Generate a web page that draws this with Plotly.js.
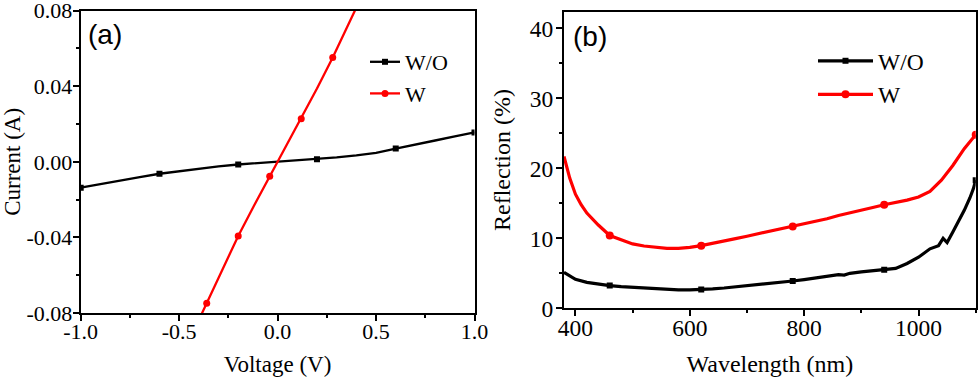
<!DOCTYPE html>
<html><head><meta charset="utf-8">
<script src="https://cdn.plot.ly/plotly-3.0.1.min.js"></script>
<style>html,body{margin:0;padding:0;background:#fff}#c{width:980px;height:378px}</style>
</head><body><div id="c"></div>
<script>
// ---- Panel (a): I-V curves ----
var voltWO = [-1.0,-0.9,-0.8,-0.7,-0.6,-0.5,-0.4,-0.3,-0.2,-0.1,0.0,0.1,0.2,0.3,0.4,0.5,0.6,0.7,0.8,0.9,1.0];
var currWO = [-0.0137,-0.0117,-0.0100,-0.0081,-0.0063,-0.0049,-0.0036,-0.0024,-0.0014,-0.0007,0.0,0.0007,0.0014,0.0024,0.0034,0.0047,0.0070,0.0090,0.0113,0.0135,0.0156];
var markVoltWO = [-1.0,-0.6,-0.2,0.2,0.6,1.0];

var voltW = [-0.40,-0.36,-0.28,-0.20,-0.12,-0.04,0.04,0.12,0.20,0.28,0.36,0.44];
var currW = [-0.0837,-0.0749,-0.0568,-0.0392,-0.0232,-0.0076,0.0076,0.0228,0.0388,0.0552,0.0727,0.0905];
var markVoltW = [-0.36,-0.20,-0.04,0.12,0.28];

var xTickValsA = [-1.0,-0.5,0.0,0.5,1.0];
var xTickTextA = ["-1.0","-0.5","0.0","0.5","1.0"];
var yTickValsA = [-0.08,-0.04,0.0,0.04,0.08];
var yTickTextA = ["-0.08","-0.04","0.00","0.04","0.08"];

// ---- Panel (b): reflection spectra ----
var waveWO = [380,390,400,420,440,460,480,500,520,540,560,580,600,620,640,660,680,700,720,740,760,780,800,820,840,860,870,880,900,920,940,960,980,1000,1020,1030,1035,1043,1050,1060,1073,1080,1090,1096,1100];
var reflWO = [5.14,4.6,4.15,3.7,3.43,3.24,3.1,3.0,2.88,2.78,2.68,2.62,2.63,2.67,2.78,2.9,3.05,3.19,3.35,3.52,3.7,3.9,4.1,4.3,4.55,4.8,4.75,5.0,5.2,5.4,5.5,5.7,6.4,7.3,8.5,8.85,8.95,10.0,9.4,10.9,12.9,14.0,15.8,17.1,18.3];
var waveW = [380,390,400,410,420,430,440,460,480,500,520,540,560,580,600,620,640,660,680,700,720,740,760,780,800,820,840,860,880,900,920,940,960,980,1000,1020,1040,1060,1080,1100];
var reflW = [21.7,18.6,16.3,14.8,13.6,12.7,11.9,10.4,9.75,9.2,8.9,8.7,8.57,8.57,8.7,8.95,9.25,9.6,9.95,10.3,10.65,11.0,11.35,11.67,12.0,12.35,12.8,13.25,13.6,14.0,14.4,14.8,15.1,15.45,15.9,16.7,18.3,20.4,22.8,24.8];
var markWave = [460,620,780,940,1100];

var xTickValsB = [400,600,800,1000];
var xTickTextB = ["400","600","800","1000"];
var yTickValsB = [0,10,20,30,40];
var yTickTextB = ["0","10","20","30","40"];

var seriesNames = ["W/O","W"];

function pick(xs, ys, marks){
  var ox=[], oy=[];
  marks.forEach(function(m){
    for (var i=0;i<xs.length;i++){ if (Math.abs(xs[i]-m)<1e-9){ ox.push(xs[i]); oy.push(ys[i]); break; } }
  });
  return {x:ox, y:oy};
}

var serif = "Liberation Serif";
var sans = "Liberation Sans";
var BLACK = "#000000", RED = "#ff0000";

var mWO_a = pick(voltWO, currWO, markVoltWO);
var mW_a = pick(voltW, currW, markVoltW);
var mWO_b = pick(waveWO, reflWO, markWave);
var mW_b = pick(waveW, reflW, markWave);

var traces = [
  // panel a
  {x:voltWO, y:currWO, mode:"lines", line:{color:BLACK,width:2.3}, showlegend:false, xaxis:"x", yaxis:"y", hoverinfo:"skip"},
  {x:mWO_a.x, y:mWO_a.y, mode:"markers", marker:{color:BLACK,symbol:"square",size:6}, showlegend:false, xaxis:"x", yaxis:"y"},
  {x:voltW, y:currW, mode:"lines", line:{color:RED,width:2.3}, showlegend:false, xaxis:"x", yaxis:"y", hoverinfo:"skip"},
  {x:mW_a.x, y:mW_a.y, mode:"markers", marker:{color:RED,symbol:"circle",size:7}, showlegend:false, xaxis:"x", yaxis:"y"},
  {x:[null], y:[null], name:seriesNames[0], mode:"lines+markers", line:{color:BLACK,width:2.3}, marker:{color:BLACK,symbol:"square",size:6}, legend:"legend", xaxis:"x", yaxis:"y"},
  {x:[null], y:[null], name:seriesNames[1], mode:"lines+markers", line:{color:RED,width:2.3}, marker:{color:RED,symbol:"circle",size:7}, legend:"legend", xaxis:"x", yaxis:"y"},
  // panel b
  {x:waveWO, y:reflWO, mode:"lines", line:{color:BLACK,width:3.2}, showlegend:false, xaxis:"x2", yaxis:"y2", hoverinfo:"skip"},
  {x:mWO_b.x, y:mWO_b.y, mode:"markers", marker:{color:BLACK,symbol:"square",size:6}, showlegend:false, xaxis:"x2", yaxis:"y2"},
  {x:waveW, y:reflW, mode:"lines", line:{color:RED,width:3.2}, showlegend:false, xaxis:"x2", yaxis:"y2", hoverinfo:"skip"},
  {x:mW_b.x, y:mW_b.y, mode:"markers", marker:{color:RED,symbol:"circle",size:8}, showlegend:false, xaxis:"x2", yaxis:"y2"},
  {x:[null], y:[null], name:seriesNames[0], mode:"lines+markers", line:{color:BLACK,width:3.2}, marker:{color:BLACK,symbol:"square",size:6}, legend:"legend2", xaxis:"x2", yaxis:"y2"},
  {x:[null], y:[null], name:seriesNames[1], mode:"lines+markers", line:{color:RED,width:3.2}, marker:{color:RED,symbol:"circle",size:8}, legend:"legend2", xaxis:"x2", yaxis:"y2"}
];

function axisBase(fs, so){
  return {
    showline:true, linecolor:"#000", linewidth:2, mirror:true,
    ticks:"outside", ticklen:6, tickwidth:2, tickcolor:"#000",
    showgrid:false, zeroline:false,
    tickfont:{family:serif, size:fs, color:"#000"},
    ticklabelstandoff:so, ticklabeloverflow:"allow",
    tickmode:"array"
  };
}
function minorTicks(d){
  return {tickmode:"linear", tick0:0, dtick:d, ticks:"outside", ticklen:3, tickwidth:2, tickcolor:"#000", showgrid:false};
}

var xa = Object.assign(axisBase(22, -8), {domain:[80.7/980, 474.5/980], anchor:"y", range:[-1,1],
  tickvals:xTickValsA, ticktext:xTickTextA, minor:minorTicks(0.25),
  title:{text:"Voltage (V)", font:{family:serif,size:23,color:"#000"}, standoff:12}});
var ya = Object.assign(axisBase(22, -4), {domain:[1-313/378, 1-10.7/378], anchor:"x", range:[-0.08,0.0800001],
  tickvals:yTickValsA, ticktext:yTickTextA, minor:minorTicks(0.02),
  title:{text:"Current (A)", font:{family:serif,size:23,color:"#000"}, standoff:13}});
var xb = Object.assign(axisBase(23.5, -9), {domain:[564/980, 975.7/980], anchor:"y2", range:[380,1100],
  tickvals:xTickValsB, ticktext:xTickTextB, minor:minorTicks(100),
  title:{text:"Wavelength (nm)", font:{family:serif,size:24,color:"#000"}, standoff:16}});
var yb = Object.assign(axisBase(23.5, -2), {domain:[1-308.3/378, 1-11.7/378], anchor:"x2", range:[0,42.37],
  tickvals:yTickValsB, ticktext:yTickTextB, minor:minorTicks(5),
  title:{text:"Reflection (%)", font:{family:serif,size:24,color:"#000"}, standoff:12}});

var layout = {
  width:980, height:378,
  margin:{l:0,r:0,t:0,b:0},
  paper_bgcolor:"#fff", plot_bgcolor:"#fff",
  showlegend:true,
  xaxis:xa, yaxis:ya, xaxis2:xb, yaxis2:yb,
  legend:{x:365/980, xanchor:"left", y:1-41/378, yanchor:"top", bgcolor:"rgba(0,0,0,0)",
    font:{family:serif,size:22,color:"#000"}, tracegroupgap:0, itemwidth:30},
  legend2:{x:813/980, xanchor:"left", y:1-39/378, yanchor:"top", bgcolor:"rgba(0,0,0,0)",
    font:{family:serif,size:23.5,color:"#000"}, tracegroupgap:0, itemwidth:55},
  annotations:[
    {text:"(a)", xref:"paper", yref:"paper", x:86/980, y:1-34.5/378, xanchor:"left", yanchor:"middle", showarrow:false,
      font:{family:sans, size:28, color:"#000"}},
    {text:"(b)", xref:"paper", yref:"paper", x:571/980, y:1-36.5/378, xanchor:"left", yanchor:"middle", showarrow:false,
      font:{family:sans, size:28, color:"#000"}}
  ]
};

Plotly.newPlot("c", traces, layout, {displayModeBar:false, staticPlot:true});
</script>
</body></html>
